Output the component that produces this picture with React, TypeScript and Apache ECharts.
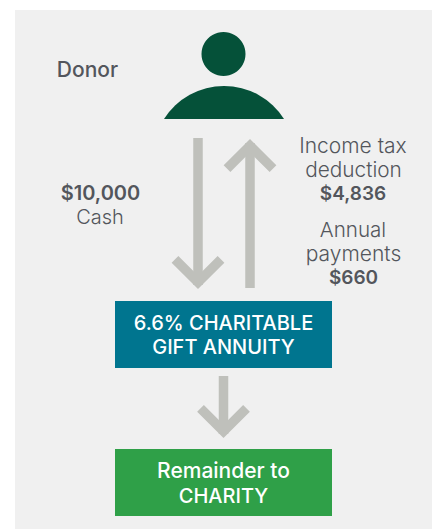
import React, { useEffect, useRef } from "react";
import * as echarts from "echarts";

const donorLabel = "Donor";
const cashAmount = "$10,000";
const cashLabel = "Cash";
const deductionLines = ["Income tax", "deduction"];
const deductionAmount = "$4,836";
const paymentLines = ["Annual", "payments"];
const paymentAmount = "$660";
const annuityLines = ["6.6% CHARITABLE", "GIFT ANNUITY"];
const remainderLines = ["Remainder to", "CHARITY"];

const FONT = "Inter";
const TEXT = "#53565c";
const ARROW = "#bfc0bb";

echarts.graphic.registerShape("donorBody", echarts.graphic.extendPath("M0 33 A71 71 0 0 1 120 33 Z", {}));

const txt = (text: string, x: number, y: number, size: number, weight: number | string, fill = TEXT) => ({
  type: "text",
  x,
  y,
  style: { text, fontFamily: FONT, fontSize: size, fontWeight: weight, fill, align: "center", verticalAlign: "middle" },
});

const arrow = (x: number, y1: number, y2: number, arm: number) => {
  const dir = y2 > y1 ? -1 : 1;
  const sw = 9.5;
  const inset = sw * 0.707 * dir;
  return [
    {
      type: "line",
      shape: { x1: x, y1, x2: x, y2: y2 + dir * 4 },
      style: { stroke: ARROW, lineWidth: sw, lineCap: "butt" },
    },
    {
      type: "polyline",
      shape: {
        points: [
          [x - arm, y2 + dir * arm + inset],
          [x, y2 + inset],
          [x + arm, y2 + dir * arm + inset],
        ],
      },
      style: { stroke: ARROW, lineWidth: sw, lineJoin: "miter", lineCap: "butt", fill: "none" },
    },
  ];
};

export default function App() {
  const ref = useRef<HTMLDivElement>(null);
  useEffect(() => {
    const chart = echarts.init(ref.current!, null, { renderer: "svg" });
    chart.setOption({
      animation: false,
      backgroundColor: "#ffffff",
      graphic: {
        elements: [
          { type: "rect", shape: { x: 15, y: 10, width: 417, height: 519 }, style: { fill: "#f0f0f0" } },
          { type: "circle", shape: { cx: 223.5, cy: 54, r: 22 }, style: { fill: "#055139" } },
          { type: "donorBody", x: 164, y: 86, style: { fill: "#055139" } },
          ...arrow(198, 138, 289, 23),
          ...arrow(250, 288, 139, 23),
          ...arrow(223.5, 376, 438, 23),
          { type: "rect", shape: { x: 115, y: 301, width: 217, height: 67 }, style: { fill: "#00758f" } },
          { type: "rect", shape: { x: 115, y: 449, width: 217, height: 67 }, style: { fill: "#2fa048" } },
          txt(donorLabel, 87.5, 69, 21, 500),
          txt(cashAmount, 100.5, 193, 20, 600),
          txt(cashLabel, 100, 217, 20, 300),
          txt(deductionLines[0], 353, 145, 21, 300),
          txt(deductionLines[1], 353.5, 169, 20.8, 300),
          txt(deductionAmount, 353, 193, 19, 600),
          txt(paymentLines[0], 353, 229, 20.6, 300),
          txt(paymentLines[1], 353.5, 253, 21, 300),
          txt(paymentAmount, 353.5, 277, 19, 600),
          txt(annuityLines[0], 223.5, 323, 20, 500, "#ffffff"),
          txt(annuityLines[1], 223.5, 347, 20, 500, "#ffffff"),
          txt(remainderLines[0], 223.5, 470, 21, 500, "#ffffff"),
          txt(remainderLines[1], 223.5, 496, 20, 500, "#ffffff"),
        ],
      },
    });
    return () => chart.dispose();
  }, []);
  return <div ref={ref} style={{ position: "absolute", left: 0, top: 0, width: 432, height: 529 }} />;
}
